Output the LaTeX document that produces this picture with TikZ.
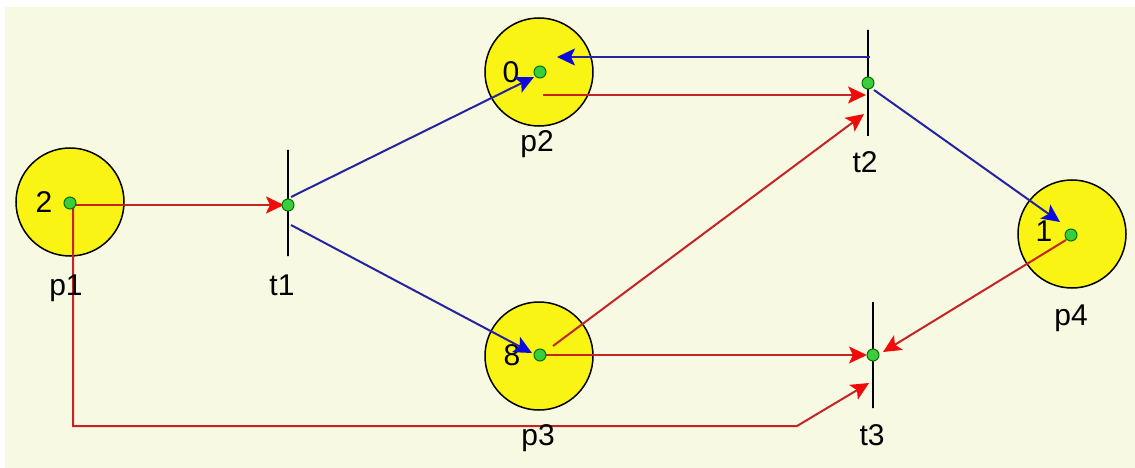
\documentclass[tikz,border=0pt]{standalone}
\usepackage{fontspec}
\setmainfont{Liberation Sans}
\usetikzlibrary{arrows.meta,calc}
\definecolor{bg}{RGB}{247,249,226}
\definecolor{placefill}{RGB}{250,244,20}
\definecolor{arcred}{RGB}{196,36,36}
\definecolor{arcblue}{RGB}{36,36,160}
\definecolor{tipred}{RGB}{240,10,10}
\definecolor{tipblue}{RGB}{10,10,220}
\definecolor{dotgreen}{RGB}{60,205,60}
\begin{document}
\begin{tikzpicture}[x=1pt,y=-1pt,
  place/.style={circle,draw=black,line width=1.5pt,fill=placefill,minimum size=108pt,inner sep=0pt},
  bar/.style={rectangle,draw=black,line width=2pt,inner sep=0pt,minimum width=0pt,minimum height=106pt},
  dot/.style={circle,draw=black!55!green,fill=dotgreen,line width=1pt,minimum size=12pt,inner sep=0pt},
  lbl/.style={font=\fontsize{30}{34}\selectfont,anchor=base,inner sep=0pt},
  tok/.style={font=\fontsize{30}{34}\selectfont,inner sep=0pt},
  redarc/.style={draw=arcred,line width=2pt,-{Stealth[length=18pt,width=17pt,inset=4pt,color=tipred]}},
  bluearc/.style={draw=arcblue,line width=2pt,-{Stealth[length=18pt,width=17pt,inset=4pt,color=tipblue]}}]

% canvas
\useasboundingbox (0,0) rectangle (1135,468);
\fill[white] (0,0) rectangle (1135,468);
\fill[bg] (5,7) rectangle (1135,468);

% centres of places and transitions
\coordinate (c1) at (70,203);
\coordinate (c2) at (540,72);
\coordinate (c3) at (540,355);
\coordinate (c4) at (1071,235);
\coordinate (u1) at (288,205);
\coordinate (u2) at (868,83);
\coordinate (u3) at (873,355);
\coordinate (k1) at (797,426);

% places
\node[place] (p1) at (70,202) {};
\node[place] (p2) at (539,72) {};
\node[place] (p3) at (539,356) {};
\node[place] (p4) at (1072,234) {};

% token counts
\node[tok] (m1) at (44,202) {2};
\node[tok] (m2) at (511,72) {0};
\node[tok] (m3) at (512,355) {8};
\node[tok] (m4) at (1044,231) {1};

% transitions
\node[bar] (t1) at (288,203) {};
\node[bar] (t2) at (868,83) {};
\node[bar] (t3) at (873,355) {};

% arcs
\draw[redarc] ($(c1)+(3,2)$) -- ($(u1)+(-4,0)$);
\draw[redarc] ($(c1)+(3,2)$) |- (k1) -- ($(u3)+(-4,28)$);
\draw[bluearc] ($(u1)+(3,-8)$) -- ($(c2)+(-6,5)$);
\draw[bluearc] ($(u1)+(3,20)$) -- ($(c3)+(-8,-2)$);
\draw[redarc] ($(c2)+(3,23)$) -- ($(u2)+(-2,12)$);
\draw[bluearc] ($(u2)+(2,-26)$) -- ($(c2)+(17,-15)$);
\draw[redarc] ($(c3)+(13,-9)$) -- ($(u2)+(-4,31)$);
\draw[redarc] ($(c3)+(5,0)$) -- ($(u3)+(-6,0)$);
\draw[bluearc] ($(u2)+(6,7)$) -- ($(c4)+(-11,-13)$);
\draw[redarc] ($(c4)+(-5,5)$) -- ($(u3)+(10,-3)$);

% centre dots
\node[dot] (d1) at (c1) {};
\node[dot] (d2) at (c2) {};
\node[dot] (d3) at (c3) {};
\node[dot] (d4) at (c4) {};
\node[dot] (e1) at (u1) {};
\node[dot] (e2) at (u2) {};
\node[dot] (e3) at (u3) {};

% names
\node[lbl] (n1) at (66,295) {p1};
\node[lbl] (n2) at (537,152) {p2};
\node[lbl] (n3) at (538,445) {p3};
\node[lbl] (n4) at (1071,325) {p4};
\node[lbl] (l1) at (282,295) {t1};
\node[lbl] (l2) at (865,172) {t2};
\node[lbl] (l3) at (872,445) {t3};
\end{tikzpicture}
\end{document}
